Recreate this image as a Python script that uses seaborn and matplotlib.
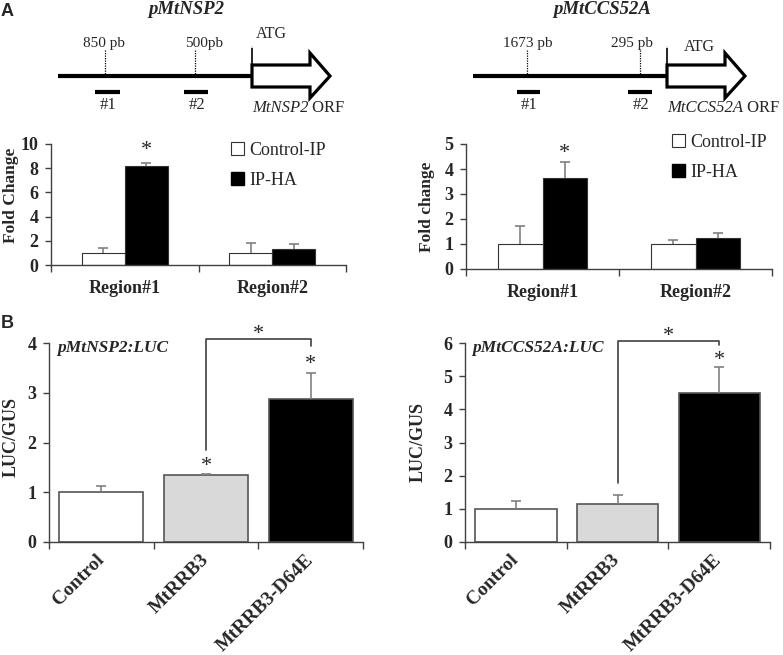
import matplotlib
matplotlib.use("Agg")
import matplotlib.pyplot as plt
import seaborn as sns
import pandas as pd
import numpy as np
from matplotlib.patches import Polygon, Patch

# panel A: ChIP-qPCR fold change
regions = ["Region#1", "Region#2"]
chip_groups = ["Control-IP", "IP-HA"]
nsp2_ctrl = [1.0, 1.0]
nsp2_ctrl_err = [0.42, 0.82]
nsp2_ha = [8.2, 1.3]
nsp2_ha_err = [0.25, 0.42]
ccs_ctrl = [1.0, 1.0]
ccs_ctrl_err = [0.7, 0.15]
ccs_ha = [3.65, 1.25]
ccs_ha_err = [0.65, 0.2]

# panel B: LUC/GUS ratio
constructs = ["Control", "MtRRB3", "MtRRB3-D64E"]
nsp2_luc = [1.0, 1.35, 2.88]
nsp2_luc_err = [0.13, 0.02, 0.52]
ccs_luc = [1.0, 1.14, 4.48]
ccs_luc_err = [0.25, 0.29, 0.8]

W, H = 783, 655
sns.set_style("ticks")
plt.rcParams["font.family"] = ["Liberation Serif", "DejaVu Serif"]
fig = plt.figure(figsize=(W / 100, H / 100), dpi=100)

AX_COL = "#404040"
ERR_COL = "#808080"


def px_axes(left, top, right, bottom):
    return fig.add_axes([left / W, 1 - bottom / H, (right - left) / W, (bottom - top) / H])


def up_errors(ax, xs, ys, err):
    eb = ax.errorbar(xs, ys, yerr=[np.zeros(len(err)), err], fmt="none", ecolor=ERR_COL,
                     elinewidth=1.2, capsize=3.5, capthick=1.2, zorder=3)
    eb[1][0].set_visible(False)  # only upper cap


def style_axes(ax, n, ymax, yticks, ylabel, lab_x, lab_y, xsize, ylabsize):
    ax.set_xlim(-0.5, n - 0.5)
    ax.set_ylim(0, ymax)
    ax.set_yticks(yticks)
    ax.set_xticks(np.arange(-0.5, n), minor=True)
    for s in ["top", "right"]:
        ax.spines[s].set_visible(False)
    for s in ["left", "bottom"]:
        ax.spines[s].set_color(AX_COL)
        ax.spines[s].set_linewidth(1.0)
    ax.tick_params(axis="x", which="major", length=0, pad=11, labelsize=xsize)
    ax.tick_params(axis="x", which="minor", length=5, width=1, color=AX_COL, direction="out")
    ax.tick_params(axis="y", length=4, width=1, color=AX_COL, direction="out", labelsize=13, pad=5)
    for lab in ax.get_yticklabels() + ax.get_xticklabels():
        lab.set_fontweight("bold")
    ax.set_xlabel("")
    ax.set_ylabel(ylabel, fontsize=ylabsize, fontweight="bold")
    ax.yaxis.set_label_coords(lab_x, lab_y)


def star(ax, x, y, size=16):
    ax.text(x, y, "*", ha="center", va="center", fontsize=size, clip_on=False)


def chip_plot(ax, ctrl, ctrl_err, ha, ha_err, ymax, yticks, ylabel, lab_x, lab_y, star_y, leg_xy):
    df = pd.DataFrame({"region": regions * 2,
                       "group": [g for g in chip_groups for _ in regions],
                       "value": ctrl + ha})
    sns.barplot(data=df, x="region", y="value", hue="group", hue_order=chip_groups,
                palette=["white", "black"], saturation=1, edgecolor="#333333", linewidth=0.8,
                width=0.58, errorbar=None, legend=False, ax=ax)
    for cont, err in zip(ax.containers, [ctrl_err, ha_err]):
        xs = [b.get_x() + b.get_width() / 2 for b in cont]
        ys = [b.get_height() for b in cont]
        up_errors(ax, xs, ys, err)
    style_axes(ax, len(regions), ymax, yticks, ylabel, lab_x, lab_y, 13, 12.5)
    hx = ax.containers[1][0]
    star(ax, hx.get_x() + hx.get_width() / 2, star_y)
    handles = [Patch(facecolor="white", edgecolor="#333333", lw=0.8),
               Patch(facecolor="black", edgecolor="black")]
    ax.legend(handles, chip_groups, loc="upper left",
              bbox_to_anchor=(leg_xy[0] / W, 1 - leg_xy[1] / H), bbox_transform=fig.transFigure,
              frameon=False, fontsize=13, handlelength=0.7, handleheight=0.7,
              handletextpad=0.3, labelspacing=0.7, borderpad=0, borderaxespad=0)


def luc_plot(ax, vals, err, ymax, yticks, lab_x, lab_y, title, bracket, stars):
    sns.barplot(x=constructs, y=vals, hue=constructs, palette=["white", "#d9d9d9", "black"],
                saturation=1, edgecolor="#555555", linewidth=1.2, width=0.8,
                errorbar=None, legend=False, ax=ax)
    up_errors(ax, np.arange(len(vals)), vals, err)
    style_axes(ax, len(constructs), ymax, yticks, "LUC/GUS", lab_x, lab_y, 14, 13)
    for lab in ax.get_xticklabels():
        lab.set_rotation(45)
        lab.set_ha("right")
        lab.set_va("center")
        lab.set_rotation_mode("anchor")
    ax.text(0.025, 0.975, title, transform=ax.transAxes, ha="left", va="center",
            fontsize=12.5, fontweight="bold", fontstyle="italic")
    y1, ytop, y2 = bracket
    ax.plot([1, 1, 2, 2], [y1, ytop, ytop, y2], color="#404040", lw=1.2, clip_on=False)
    for x, y in stars:
        star(ax, x, y)


# ---- panel A charts
ax1 = px_axes(51, 144, 346, 265)
chip_plot(ax1, nsp2_ctrl, nsp2_ctrl_err, nsp2_ha, nsp2_ha_err, 10, [0, 2, 4, 6, 8, 10],
          "Fold Change", -0.11, 0.58, 9.5, (231, 142))
ax2 = px_axes(466, 144, 772, 269)
chip_plot(ax2, ccs_ctrl, ccs_ctrl_err, ccs_ha, ccs_ha_err, 5, [0, 1, 2, 3, 4, 5],
          "Fold change", -0.10, 0.5, 4.6, (672, 134))

# ---- panel B charts
ax3 = px_axes(49, 343, 363, 542)
luc_plot(ax3, nsp2_luc, nsp2_luc_err, 4, [0, 1, 2, 3, 4], -0.095, 0.53, "pMtNSP2:LUC",
         (1.85, 4.09, 3.93), [(1.5, 4.17), (2, 3.56), (1, 1.51)])
ax4 = px_axes(465, 343, 770, 542)
luc_plot(ax4, ccs_luc, ccs_luc_err, 6, [0, 1, 2, 3, 4, 5, 6], -0.125, 0.5, "pMtCCS52A:LUC",
         (1.78, 6.05, 5.93), [(1.5, 6.2), (2, 5.48)])

# ---- promoter diagrams (pixel coordinates)
ov = fig.add_axes([0, 0, 1, 1])
ov.set_xlim(0, W)
ov.set_ylim(H, 0)
ov.axis("off")


def gene(x0, xatg, title, tx, sites, amps, orf, atg_txt):
    y = 76
    ov.plot([x0, xatg], [y, y], color="black", lw=3, solid_capstyle="butt")
    ov.text(tx, 9, title, ha="center", va="center", fontsize=13.5, fontweight="bold", fontstyle="italic")
    for sx, lx, lab in sites:
        ov.plot([sx, sx], [50, y - 2], color="black", lw=0.9, ls=(0, (1, 1)))
        ov.text(lx, 43, lab, ha="center", va="center", fontsize=11)
    for (a, b), lab in zip(amps, ["#1", "#2"]):
        ov.plot([a, b], [92, 92], color="black", lw=3, solid_capstyle="butt")
        ov.text((a + b) / 2 + 1, 105, lab, ha="center", va="center", fontsize=12)
    ov.plot([xatg, xatg], [y, 47], color="black", lw=1.2)
    ov.annotate("", xy=(xatg + 17, 47), xytext=(xatg - 0.5, 47),
                arrowprops=dict(arrowstyle="->", lw=1.2, mutation_scale=11, shrinkA=0, shrinkB=0))
    ov.text(atg_txt[0], atg_txt[1], "ATG", ha="left", va="center", fontsize=11.5)
    pts = [(xatg, 65), (xatg + 58, 65), (xatg + 58, 53), (xatg + 78, 76),
           (xatg + 58, 98), (xatg + 58, 87), (xatg, 87)]
    ov.add_patch(Polygon(pts, closed=True, fill=False, edgecolor="black", lw=2.3, joinstyle="miter"))
    t = ov.text(xatg, 108, orf, ha="left", va="center", fontsize=12, fontstyle="italic")
    ov.annotate(" ORF", xy=(1, 0), xycoords=t, ha="left", va="bottom", fontsize=12)


gene(58, 252, "pMtNSP2", 186, [(105, 104, "850 pb"), (195, 204, "500pb")],
     [(95, 120), (184, 208)], "MtNSP2", (256, 34))
gene(473, 667, "pMtCCS52A", 602, [(527, 528, "1673 pb"), (640, 632, "295 pb")],
     [(517, 540), (628, 652)], "MtCCS52A", (684, 47))

fig.text(1 / W, 1 - 12 / H, "A", family="Liberation Sans", fontweight="bold", fontsize=13, va="center")
fig.text(1 / W, 1 - 324 / H, "B", family="Liberation Sans", fontweight="bold", fontsize=13, va="center")

fig.savefig("out.png", dpi=100)
